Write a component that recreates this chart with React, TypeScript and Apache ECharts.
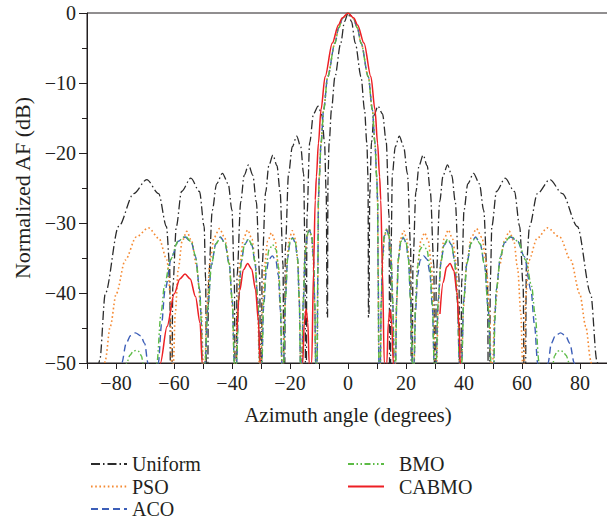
import React, { useEffect, useRef } from "react";
import * as echarts from "echarts";

type Pt = [number, number | null];

const xTickLabels = [-80, -60, -40, -20, 0, 20, 40, 60, 80];
const yTickLabels = [-50, -40, -30, -20, -10, 0];
const seriesNames = ["Uniform", "PSO", "ACO", "BMO", "CABMO"];

const uniform: Pt[] = [
  [-88.5, -65], [-85.6, -49.6], [-83.7, -40.1], [-79.1, -30.5], [-73.9, -25.8], [-69.4, -23.8], [-65.3, -25.8], [-62.6, -30.5], [-61.5, -36], [-61.0, -70],
  [-60.4, -39], [-59.2, -30.5], [-57.4, -25.5], [-54.2, -23.6], [-51.2, -25.5], [-49.6, -30.5], [-49.1, -38], [-48.6, -70],
  [-48.1, -38.5], [-46.8, -28.2], [-45.3, -24.4], [-43.3, -22.9], [-41.3, -24.4], [-40.0, -28.2], [-39.2, -38.5], [-38.7, -70],
  [-38.25, -37.5], [-37.0, -27], [-35.8, -23.2], [-34.3, -21.7], [-32.8, -23.2], [-31.6, -27], [-30.45, -37.5], [-30.0, -70],
  [-29.6, -36], [-28.4, -25.6], [-27.3, -21.8], [-25.9, -20.3], [-24.5, -21.8], [-23.4, -25.6], [-22.4, -36], [-22.0, -70],
  [-21.6, -33.5], [-20.5, -23], [-19.2, -19.1], [-17.7, -17.6], [-16.3, -19.1], [-15.3, -23], [-14.85, -33.5], [-14.5, -70],
  [-14.15, -29], [-13.2, -18.5], [-11.9, -14.4], [-10.3, -13.3], [-9.0, -14.6], [-8.1, -18.5], [-7.5, -26], [-7.25, -43], [-7.15, null],
  [-7.05, -43.5], [-6.9, -23.4], [-6.5, -18.6], [-5.7, -13.8], [-4.5, -9.1], [-2.5, -4.3], [-1.2, -1.2], [0, 0],
  [1.2, -1.2], [2.5, -4.3], [4.5, -9.1], [5.7, -13.8], [6.5, -18.6], [6.9, -23.4], [7.05, -43.5], [7.15, null],
  [7.25, -43], [7.5, -26], [8.1, -18.5], [9.0, -14.6], [10.3, -13.3], [11.9, -14.4], [13.2, -18.5], [14.15, -29], [14.5, -70],
  [14.85, -33.5], [15.3, -23], [16.3, -19.1], [17.7, -17.6], [19.2, -19.1], [20.5, -23], [21.6, -33.5], [22.0, -70],
  [22.4, -36], [23.4, -25.6], [24.5, -21.8], [25.9, -20.3], [27.3, -21.8], [28.4, -25.6], [29.6, -36], [30.0, -70],
  [30.45, -37.5], [31.6, -27], [32.8, -23.2], [34.3, -21.7], [35.8, -23.2], [37.0, -27], [38.25, -37.5], [38.7, -70],
  [39.2, -38.5], [40.0, -28.2], [41.3, -24.4], [43.3, -22.9], [45.3, -24.4], [46.8, -28.2], [48.1, -38.5], [48.6, -70],
  [49.1, -38], [49.6, -30.5], [51.2, -25.5], [54.2, -23.6], [57.4, -25.5], [59.2, -30.5], [60.4, -39], [61.0, -70],
  [61.5, -36], [62.6, -30.5], [65.3, -25.8], [69.6, -23.8], [73.9, -25.8], [79.1, -30.5], [83.7, -40.1], [85.8, -49.6], [88.5, -65],
];

const pso: Pt[] = [
  [-85.3, -65], [-83.7, -49.6], [-82, -44.8], [-79.9, -40.1], [-76.8, -35.3], [-73, -32], [-68.8, -30.7], [-65.2, -32.2], [-62.4, -35.3], [-61.3, -40.1], [-60.8, -50], [-60.5, -70],
  [-60.2, -50], [-59.6, -43], [-58.5, -36.5], [-57.2, -32.6], [-55.6, -31.2], [-53.9, -32.6], [-52.3, -36], [-50.6, -42.5], [-49.9, -50], [-49.6, -70],
  [-49.3, -50], [-48.7, -42], [-47.6, -35.5], [-46.2, -32.1], [-44.3, -30.8], [-42.5, -32.1], [-41.0, -35.5], [-39.8, -42], [-39.2, -50], [-38.9, -70],
  [-38.6, -50], [-38.1, -42], [-37.2, -35.5], [-36.1, -32.3], [-34.6, -31.0], [-33.1, -32.3], [-32.0, -35.5], [-31.1, -42], [-30.6, -50], [-30.3, -70],
  [-30.0, -50], [-29.5, -42], [-28.7, -35.8], [-27.7, -32.6], [-26.4, -31.4], [-25.1, -32.6], [-24.1, -35.8], [-23.3, -42], [-22.8, -50], [-22.5, -70],
  [-22.25, -50], [-21.8, -42], [-21.1, -35.5], [-20.3, -32.3], [-19.2, -31.1], [-18.1, -32.3], [-17.3, -35.5], [-16.7, -42], [-16.35, -50], [-16.1, -70],
  [-15.85, -50], [-15.5, -41.5], [-14.9, -35], [-14.2, -32], [-13.4, -30.8], [-12.6, -32], [-12.0, -35], [-11.5, -41.5], [-11.15, -50], [-10.9, -70],
  [-10.65, -50], [-10.4, -38], [-10.2, -26.7], [-9.9, -23.4], [-9.3, -18.6], [-8.4, -13.8], [-7.0, -9.1], [-4.5, -4.3], [-3.2, -2.1], [-1.8, -0.7], [0, 0],
  [1.8, -0.7], [3.2, -2.1], [4.5, -4.3], [7.0, -9.1], [8.4, -13.8], [9.3, -18.6], [9.9, -23.4], [10.2, -26.7], [10.4, -38], [10.65, -50], [10.9, -70],
  [11.15, -50], [11.5, -41.5], [12.0, -35], [12.6, -32], [13.4, -30.8], [14.2, -32], [14.9, -35], [15.5, -41.5], [15.85, -50], [16.1, -70],
  [16.35, -50], [16.7, -42], [17.3, -35.5], [18.1, -32.3], [19.2, -31.1], [20.3, -32.3], [21.1, -35.5], [21.8, -42], [22.25, -50], [22.5, -70],
  [22.8, -50], [23.3, -42], [24.1, -35.8], [25.1, -32.6], [26.4, -31.4], [27.7, -32.6], [28.7, -35.8], [29.5, -42], [30.0, -50], [30.3, -70],
  [30.6, -50], [31.1, -42], [32.0, -35.5], [33.1, -32.3], [34.6, -31.0], [36.1, -32.3], [37.2, -35.5], [38.1, -42], [38.6, -50], [38.9, -70],
  [39.2, -50], [39.8, -42], [41.0, -35.5], [42.5, -32.1], [44.3, -30.8], [46.2, -32.1], [47.6, -35.5], [48.7, -42], [49.3, -50], [49.6, -70],
  [49.9, -50], [50.6, -42.5], [52.3, -36], [53.9, -32.6], [55.6, -31.2], [57.2, -32.6], [58.5, -36.5], [59.6, -43], [60.2, -50], [60.5, -70],
  [60.8, -50], [61.3, -40.1], [62.4, -35.3], [65.2, -32.2], [68.8, -30.7], [73, -32], [76.8, -35.3], [79.9, -40.1], [82, -44.8], [83.7, -49.6], [85.3, -65],
];

const aco: Pt[] = [
  [-81, -75], [-78, -50], [-76.5, -47.2], [-75, -46.1], [-73.3, -45.7], [-71.5, -46.1], [-70.1, -47.2], [-69.0, -50], [-66.8, -75],
  [-65.4, -50], [-64.3, -44.5], [-63.1, -39.6], [-60.8, -34.8], [-58.5, -32.6], [-56.1, -32], [-54.0, -32.8], [-52.6, -34.8], [-51.1, -39.6], [-50.6, -44], [-50.3, -50], [-49.8, -70],
  [-49.3, -50], [-48.3, -42], [-47.1, -36], [-45.6, -33], [-44, -32], [-42.4, -32.9], [-41.0, -35.8], [-39.9, -41], [-39.2, -50], [-38.8, -70],
  [-38.4, -50], [-37.7, -41], [-36.8, -35.5], [-35.7, -33.1], [-34.4, -32.4], [-33.1, -33.2], [-32.1, -35.5], [-31.1, -41], [-30.4, -50], [-30.1, -70],
  [-29.7, -50], [-29.1, -42], [-28.2, -37], [-27.3, -35.2], [-26.1, -34.7], [-24.9, -35.3], [-24.0, -37.5], [-23.3, -42.5], [-22.8, -50], [-22.5, -70],
  [-22.2, -50], [-21.6, -41], [-20.8, -35], [-20.0, -32.8], [-19.1, -32.1], [-18.2, -32.8], [-17.4, -35], [-16.8, -41], [-16.4, -50], [-16.15, -70],
  [-15.9, -50], [-15.4, -41], [-14.8, -34.5], [-14.1, -31.8], [-13.3, -31], [-12.5, -31.9], [-11.9, -35], [-11.45, -41.5], [-11.15, -50], [-10.9, -70],
  [-10.65, -50], [-10.4, -37], [-10.2, -26.7], [-9.9, -23.4], [-9.3, -18.6], [-8.4, -13.8], [-7.0, -9.1], [-4.5, -4.3], [-3.2, -2.1], [-1.8, -0.7], [0, 0],
  [1.8, -0.7], [3.2, -2.1], [4.5, -4.3], [7.0, -9.1], [8.4, -13.8], [9.3, -18.6], [9.9, -23.4], [10.2, -26.7], [10.4, -37], [10.65, -50], [10.9, -70],
  [11.15, -50], [11.45, -41.5], [11.9, -35], [12.5, -31.9], [13.3, -31], [14.1, -31.8], [14.8, -34.5], [15.4, -41], [15.9, -50], [16.15, -70],
  [16.4, -50], [16.8, -41], [17.4, -35], [18.2, -32.8], [19.1, -32.1], [20.0, -32.8], [20.8, -35], [21.6, -41], [22.2, -50], [22.5, -70],
  [22.8, -50], [23.3, -42.5], [24.0, -37.5], [24.9, -35.3], [26.1, -34.7], [27.3, -35.2], [28.2, -37], [29.1, -42], [29.7, -50], [30.1, -70],
  [30.4, -50], [31.1, -41], [32.1, -35.5], [33.1, -33.2], [34.4, -32.4], [35.7, -33.1], [36.8, -35.5], [37.7, -41], [38.4, -50], [38.8, -70],
  [39.2, -50], [39.9, -41], [41.0, -35.8], [42.4, -32.9], [44, -32], [45.6, -33], [47.1, -36], [48.3, -42], [49.3, -50], [49.8, -70],
  [50.3, -50], [50.6, -44], [51.1, -39.6], [52.6, -34.8], [54.0, -32.8], [56.1, -32], [58.5, -32.6], [60.8, -34.8], [63.1, -39.6], [64.3, -44.5], [65.4, -50], [66.8, -75],
  [69.0, -50], [70.1, -47.2], [71.5, -46.1], [73.3, -45.7], [75, -46.1], [76.5, -47.2], [78, -50], [81, -75],
];

const bmo: Pt[] = [
  [-79, -75], [-76.3, -50], [-75.2, -48.9], [-74.1, -48.35], [-73.1, -48.2], [-72.1, -48.35], [-71.2, -49], [-70.7, -50], [-67.5, -75],
  [-65.9, -50], [-64.5, -43], [-63.3, -39], [-61.3, -35.3], [-58.6, -32.6], [-56.1, -31.9], [-54.0, -32.7], [-52.6, -34.7], [-51.2, -39.4], [-50.6, -44], [-50.3, -50], [-49.8, -70],
  [-49.3, -50], [-48.3, -42], [-47.1, -36], [-45.6, -33], [-44, -32.1], [-42.4, -32.9], [-41.0, -35.8], [-39.9, -41], [-39.2, -50], [-38.8, -70],
  [-38.4, -50], [-37.7, -41], [-36.8, -35.5], [-35.7, -33.1], [-34.4, -32.3], [-33.1, -33.1], [-32.1, -35.5], [-31.1, -41], [-30.4, -50], [-30.1, -70],
  [-29.7, -50], [-29.1, -41.5], [-28.2, -36], [-27.2, -33.8], [-26.0, -33.1], [-24.8, -33.8], [-23.9, -36.5], [-23.2, -42], [-22.8, -50], [-22.5, -70],
  [-22.2, -50], [-21.6, -41], [-20.8, -35], [-20.0, -32.7], [-19.1, -32], [-18.2, -32.7], [-17.4, -35], [-16.8, -41], [-16.4, -50], [-16.15, -70],
  [-15.9, -50], [-15.4, -41], [-14.8, -34.3], [-14.1, -31.7], [-13.3, -30.9], [-12.5, -31.8], [-11.9, -35], [-11.45, -41.5], [-11.15, -50], [-10.9, -70],
  [-10.65, -50], [-10.4, -37], [-10.2, -26.7], [-9.9, -23.4], [-9.3, -18.6], [-8.4, -13.8], [-7.0, -9.1], [-4.5, -4.3], [-3.2, -2.1], [-1.8, -0.7], [0, 0],
  [1.8, -0.7], [3.2, -2.1], [4.5, -4.3], [7.0, -9.1], [8.4, -13.8], [9.3, -18.6], [9.9, -23.4], [10.2, -26.7], [10.4, -37], [10.65, -50], [10.9, -70],
  [11.15, -50], [11.45, -41.5], [11.9, -35], [12.5, -31.8], [13.3, -30.9], [14.1, -31.7], [14.8, -34.3], [15.4, -41], [15.9, -50], [16.15, -70],
  [16.4, -50], [16.8, -41], [17.4, -35], [18.2, -32.7], [19.1, -32], [20.0, -32.7], [20.8, -35], [21.6, -41], [22.2, -50], [22.5, -70],
  [22.8, -50], [23.2, -42], [23.9, -36.5], [24.8, -33.8], [26.0, -33.1], [27.2, -33.8], [28.2, -36], [29.1, -41.5], [29.7, -50], [30.1, -70],
  [30.4, -50], [31.1, -41], [32.1, -35.5], [33.1, -33.1], [34.4, -32.3], [35.7, -33.1], [36.8, -35.5], [37.7, -41], [38.4, -50], [38.8, -70],
  [39.2, -50], [39.9, -41], [41.0, -35.8], [42.4, -32.9], [44, -32.1], [45.6, -33], [47.1, -36], [48.3, -42], [49.3, -50], [49.8, -70],
  [50.3, -50], [50.6, -44], [51.2, -39.4], [52.6, -34.7], [54.0, -32.7], [56.1, -31.9], [58.6, -32.6], [61.3, -35.3], [63.3, -39], [64.5, -43], [65.9, -50], [67.5, -75],
  [70.7, -50], [71.2, -49], [72.1, -48.35], [73.1, -48.2], [74.1, -48.35], [75.2, -48.9], [76.3, -50], [79, -75],
];

const cabmo: Pt[] = [
  [-66, -70], [-64.7, -50], [-62.4, -44.8], [-59.9, -40.1], [-58, -38], [-56.2, -37.3], [-54.4, -38], [-52.6, -40.5], [-51, -44.3], [-50.3, -50], [-49.8, -70],
  [-39, -70], [-38.7, null],
  [-38.3, -45.5], [-37.3, -39.6], [-36.1, -36.7], [-34.6, -35.8], [-33.2, -36.6], [-31.9, -39.5], [-30.9, -44], [-30.3, -50], [-29.9, -70],
  [-16, -70], [-15.6, -50], [-15.1, -44.4], [-14.45, -42.3], [-13.85, -44.2], [-13.4, -50], [-13.1, -70],
  [-12.5, -50], [-11.9, -37], [-11.3, -26.7], [-10.9, -23.4], [-10.2, -18.6], [-9.3, -13.8], [-7.9, -9.1], [-5.4, -4.3], [-3.3, -1.7], [-2.0, -0.7], [0, 0],
  [2.0, -0.7], [3.3, -1.7], [5.5, -4.3], [7.9, -9.1], [9.3, -13.8], [10.2, -18.6], [10.9, -23.4], [11.3, -26.7], [11.9, -37], [12.5, -50], [13.1, -70],
  [13.4, -50], [13.9, -44.2], [14.5, -42.4], [15.1, -44.4], [15.6, -50], [16, -70],
  [31.2, null],
  [31.7, -43], [32.8, -38.5], [34.0, -36.3], [35.2, -35.8], [36.5, -36.8], [37.6, -40], [38.3, -45], [38.7, -50], [39.1, -70],
];

const colors = ["#2b2b2b", "#f58a33", "#3c5eb8", "#5cbb45", "#ed1f24"];
const dashes: any[] = [[9, 3, 1.5, 3], [1.6, 2.6], [7, 4], [6, 2.5, 1.5, 2.5, 1.5, 2.5], "solid"];
const widths = [1.3, 1.6, 1.4, 1.4, 1.5];
const seriesData = [uniform, pso, aco, bmo, cabmo];

const FONT = "'Liberation Serif', 'DejaVu Serif', serif";
const TXT = "#231f20";
const fmt = (v: number) => (v < 0 ? "\u2212" + Math.abs(v) : String(v));

const legendBase = {
  orient: "vertical",
  top: 454,
  height: 90,
  padding: 0,
  itemGap: 2.5,
  itemWidth: 36,
  itemHeight: 14,
  itemStyle: { opacity: 0 },
  textStyle: { fontFamily: FONT, fontSize: 20, color: TXT, lineHeight: 20 },
};

export default function App() {
  const ref = useRef<HTMLDivElement>(null);
  useEffect(() => {
    document.body.style.margin = "0";
    if (!ref.current) return;
    const chart = echarts.init(ref.current, undefined, { renderer: "svg" });
    chart.setOption({
      animation: false,
      backgroundColor: "#ffffff",
      textStyle: { fontFamily: FONT },
      grid: {
        left: 87,
        right: -2,
        top: 13,
        bottom: 158,
        show: true,
        borderColor: TXT,
        borderWidth: 1,
        outerBoundsMode: "none",
        containLabel: false,
      },
      legend: [
        { ...legendBase, left: 90, data: seriesNames.slice(0, 3) },
        {
          ...legendBase,
          left: 347,
          data: seriesNames.slice(3),
          textStyle: { ...legendBase.textStyle, padding: [0, 0, 0, 10] },
        },
      ],
      xAxis: {
        type: "value",
        min: -90,
        max: 90,
        interval: 10,
        name: "Azimuth angle (degrees)",
        nameLocation: "middle",
        nameGap: 41,
        nameTextStyle: { fontFamily: FONT, fontSize: 21, color: TXT },
        axisLine: { show: true, onZero: false, lineStyle: { color: TXT, width: 1 } },
        axisTick: { show: true, inside: false, length: 6, lineStyle: { color: TXT } },
        axisLabel: {
          margin: 10,
          fontFamily: FONT,
          fontSize: 20,
          color: TXT,
          formatter: (v: number) => (xTickLabels.includes(v) ? fmt(v) : ""),
        },
        splitLine: { show: false },
      },
      yAxis: {
        type: "value",
        min: -50,
        max: 0,
        interval: 10,
        name: "Normalized AF (dB)",
        nameLocation: "middle",
        nameGap: 54,
        nameTextStyle: { fontFamily: FONT, fontSize: 22, color: TXT },
        axisLine: { show: true, onZero: false, lineStyle: { color: TXT, width: 1 } },
        axisTick: { show: true, inside: false, length: 8, lineStyle: { color: TXT } },
        minorTick: { show: true, splitNumber: 2, length: 5, lineStyle: { color: TXT } },
        axisLabel: {
          margin: 11,
          fontFamily: FONT,
          fontSize: 20,
          color: TXT,
          formatter: (v: number) => (yTickLabels.includes(v) ? fmt(v) : ""),
        },
        splitLine: { show: false },
        minorSplitLine: { show: false },
      },
      series: seriesNames.map((name, i) => ({
        name,
        type: "line",
        data: seriesData[i],
        symbol: "none",
        showSymbol: false,
        smooth: 0.3,
        smoothMonotone: "x",
        connectNulls: false,
        clip: true,
        silent: true,
        color: colors[i],
        lineStyle: { color: colors[i], width: widths[i], type: dashes[i] },
        z: 2 + i,
      })),
    });
    return () => chart.dispose();
  }, []);
  return <div ref={ref} style={{ width: 607, height: 521 }} />;
}
